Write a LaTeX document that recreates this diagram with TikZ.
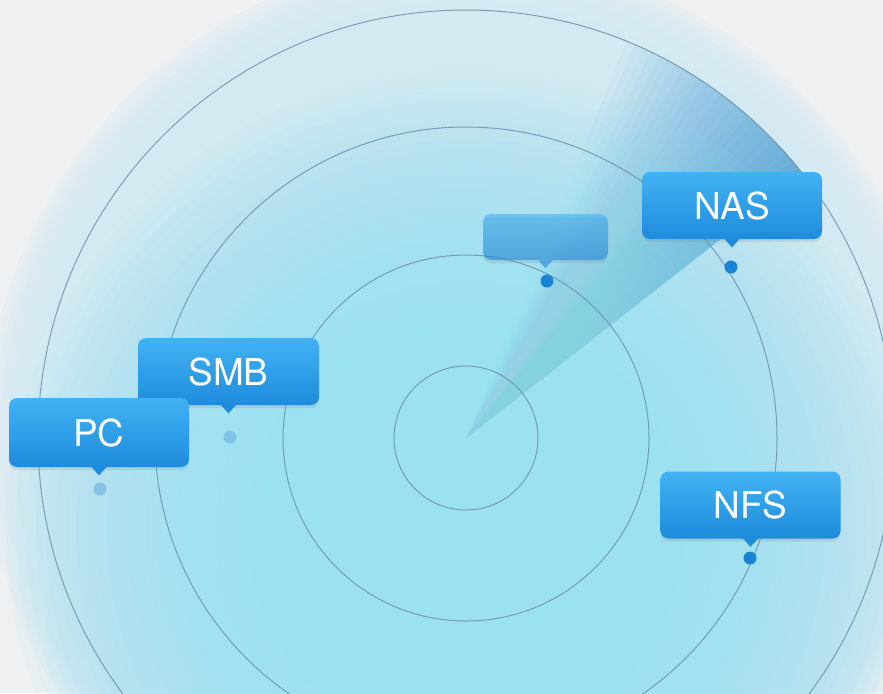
\documentclass[tikz,border=0pt]{standalone}
\usepackage{fontspec}
\setmainfont{TeX Gyre Heros}
\usetikzlibrary{calc, shadows}

\definecolor{bggray}{RGB}{238,240,242}
\definecolor{haloedge}{RGB}{212,234,246}
\definecolor{glowcyan}{RGB}{148,225,240}
\definecolor{ringline}{RGB}{104,140,168}
\definecolor{sweepblue}{RGB}{45,145,212}
\definecolor{boxtop}{RGB}{66,178,243}
\definecolor{boxbottom}{RGB}{30,140,220}
\definecolor{dotblue}{RGB}{26,132,212}
\definecolor{dotfaint}{RGB}{70,150,215}

\tikzset{
	ring/.style={draw=ringline, line width=0.5pt, draw opacity=0.8},
	bubble/.style={rounded corners=4pt, top color=boxtop, bottom color=boxbottom,
		minimum width=90pt, minimum height=33.5pt, inner sep=0pt, text=white,
		font=\fontsize{18.5}{20}\selectfont,
		drop shadow={opacity=0.18, shadow xshift=0pt, shadow yshift=-1.5pt}},
	spot/.style={circle, fill=dotblue, inner sep=0pt, minimum size=6.5pt},
	spotfaint/.style={spot, fill=dotfaint, fill opacity=0.4},
}

\begin{document}
\begin{tikzpicture}[x=0.5pt, y=-0.5pt, line cap=round, line join=round]
	
	\useasboundingbox (0,0) rectangle (883,693);
	\clip (0,0) rectangle (883,693);
	\coordinate (C) at (466,438);
	\coordinate (G) at (466,530);
	
	%========================
	% background and glow
	%========================
	\fill[bggray] (0,0) rectangle (883,693);
	% soft halo round the outer ring
	\foreach \i in {0,...,11}
	\fill[haloedge, fill opacity=0.22] (C) circle (426+5*\i);
	
	% sweep: leading edge at 38 deg, fading backwards
	\foreach \k in {1,...,25}
	\fill[sweepblue, fill opacity=0.035]
	(C) -- ++(-38:428) arc[start angle=-38, end angle=-38-1.2*\k, radius=428] -- cycle;
	
	% cyan glow, a bit below the centre (also dims the sweep near the centre)
	\foreach \i in {0,...,26}
	\fill[glowcyan, fill opacity=0.06] (G) circle (200+10*\i);
	
	% rings
	\foreach \r in {72,183,311,428}
	\draw[ring] (C) circle (\r);
	
	%========================
	% callouts
	%========================
	% blank one, half transparent
	\node[bubble, minimum width=62.5pt, minimum height=23pt, opacity=0.6] (blank) at (545.5,237) {};
	\fill[boxbottom, opacity=0.6] (blank.south) ++(-7,0) -- ++(14,0) -- ++(-7,8) -- cycle;
	\node[spot] (blankdot) at (547,281) {};
	
	\node[bubble] (nas) at (732,205.5) {NAS};
	\fill[boxbottom] (nas.south) ++(-8,-1) -- ++(16,0) -- ++(-8,9) -- cycle;
	\node[spot] (nasdot) at (731,267) {};
	
	\node[bubble] (nfs) at (750.5,505) {NFS};
	\fill[boxbottom] (nfs.south) ++(-8,-1) -- ++(16,0) -- ++(-8,9) -- cycle;
	\node[spot] (nfsdot) at (750,558) {};
	
	\node[bubble, minimum width=90.5pt] (smb) at (228.5,371.5) {SMB};
	\fill[boxbottom] (smb.south) ++(-8,-1) -- ++(16,0) -- ++(-8,9) -- cycle;
	\node[spotfaint] (smbdot) at (230,437) {};
	
	\node[bubble, minimum height=34.5pt] (pc) at (99,432.5) {PC};
	\fill[boxbottom] (pc.south) ++(-8,-1) -- ++(16,0) -- ++(-8,9) -- cycle;
	\node[spotfaint] (pcdot) at (100,489) {};
	
\end{tikzpicture}
\end{document}
